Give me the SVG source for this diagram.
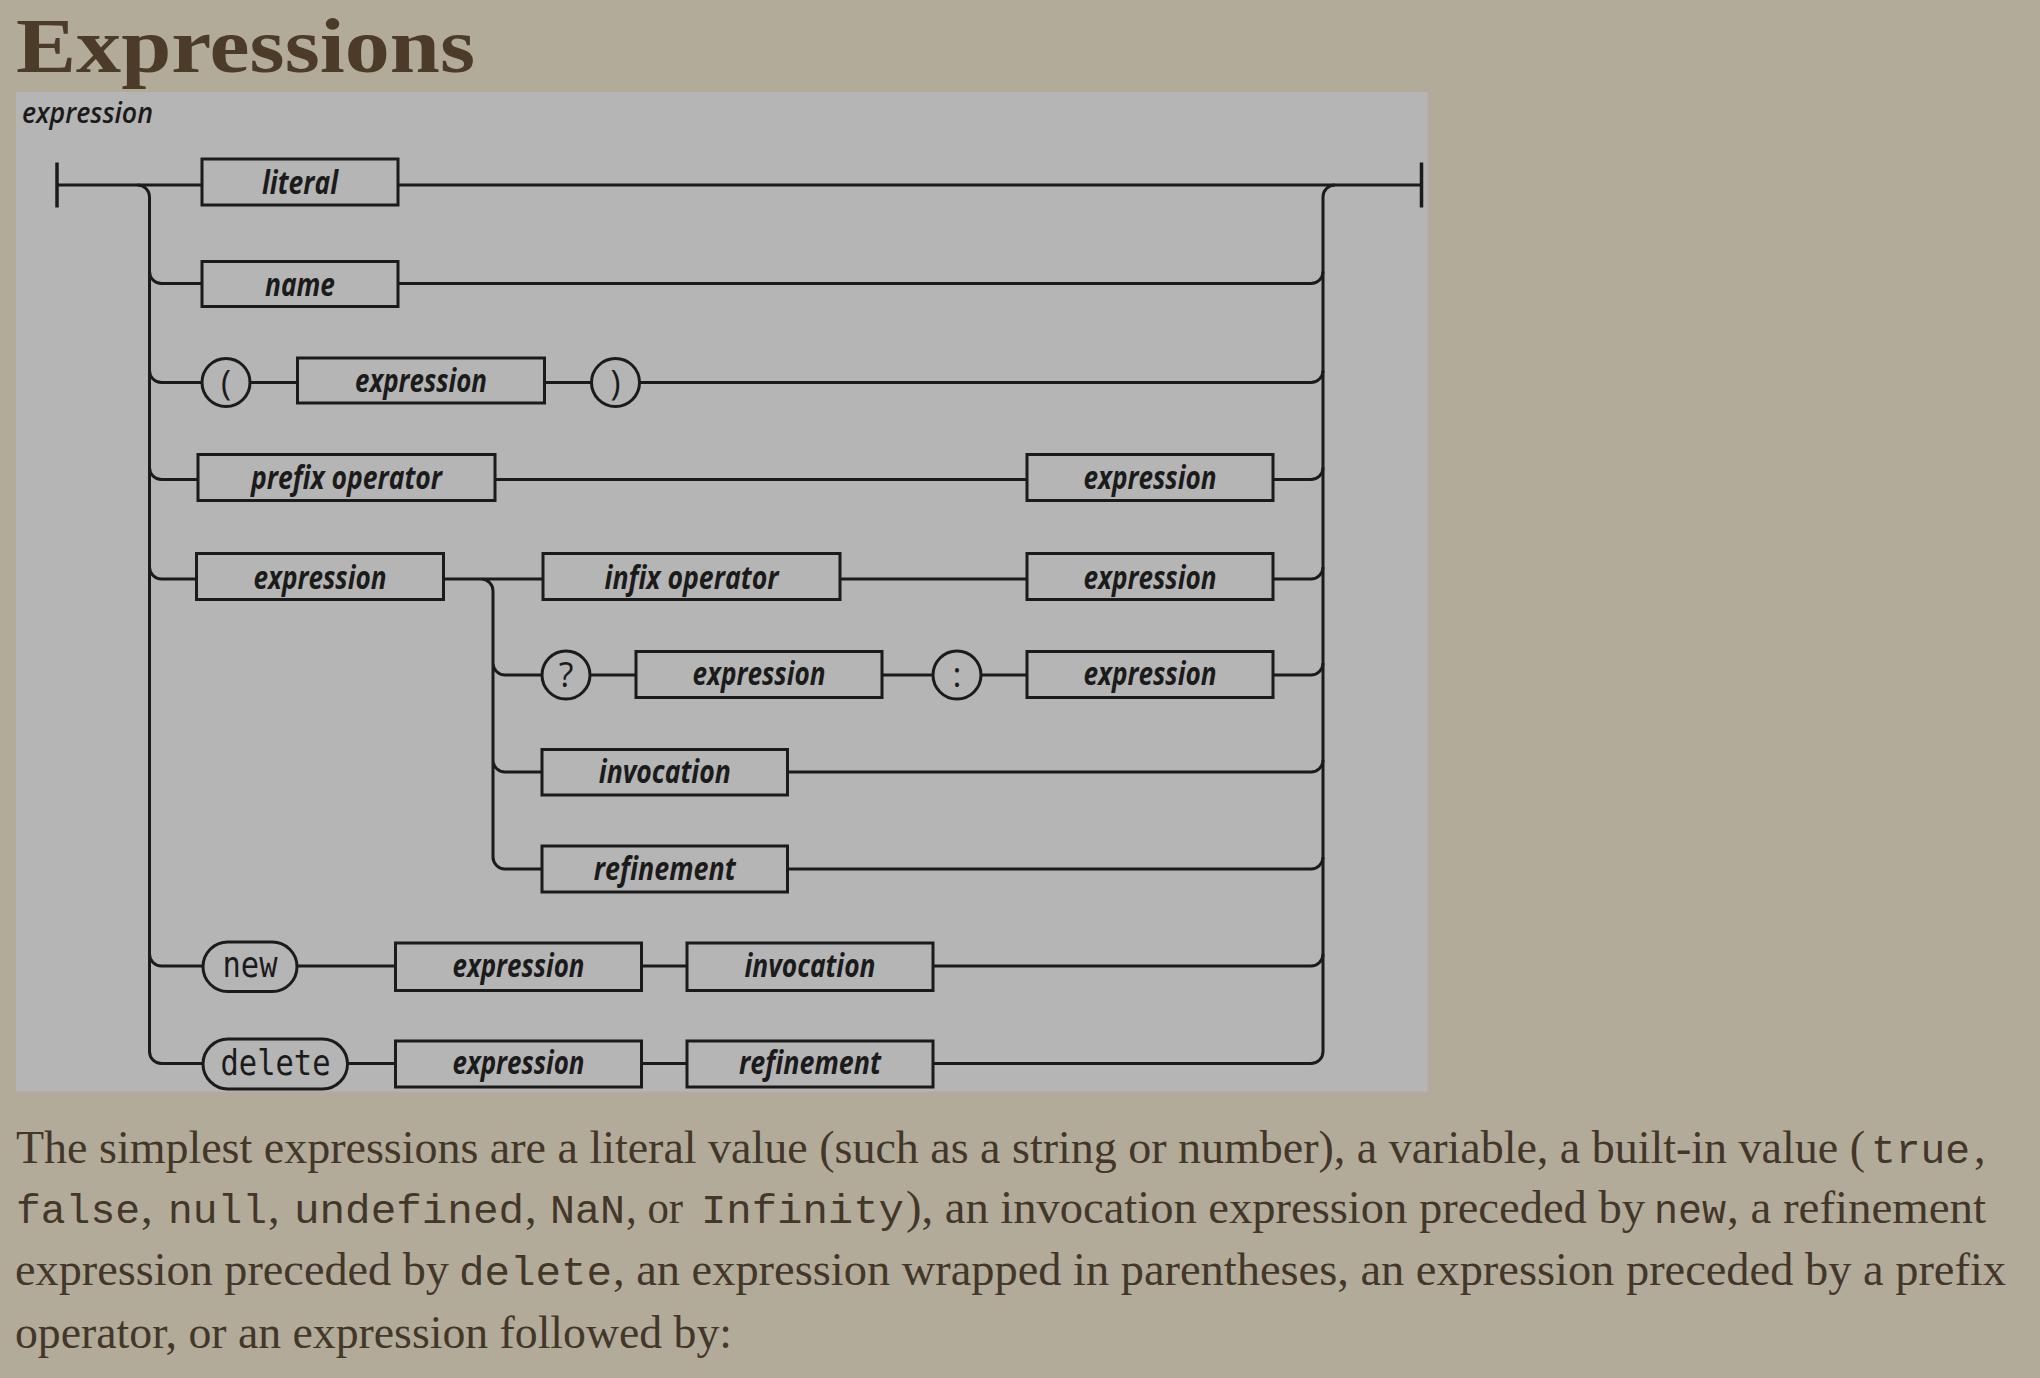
<svg xmlns="http://www.w3.org/2000/svg" width="2040" height="1378" viewBox="0 0 2040 1378">
<style>
.ln{fill:none;stroke:#1b1b1b;stroke-width:3;stroke-linecap:butt}
.bar{fill:none;stroke:#1b1b1b;stroke-width:3.5}
.box{fill:none;stroke:#1b1b1b;stroke-width:3}
.lbl{font-family:"Open Sans","DejaVu Sans",sans-serif;font-style:italic;font-weight:700;font-size:32px;fill:#1b1b1b;text-anchor:middle}
.sym{font-family:"Open Sans","DejaVu Sans",sans-serif;font-size:34px;fill:#1b1b1b;text-anchor:middle}
.kw{font-family:"DejaVu Sans Mono","Liberation Mono",monospace;font-size:36px;fill:#1b1b1b;text-anchor:middle}
.p{font-family:"Liberation Serif","Times New Roman",serif;font-size:46px;fill:#43372a}
.m{font-family:"Liberation Mono","Courier New",monospace;font-size:41px;fill:#43372a}
</style>
<rect x="0" y="0" width="2040" height="1378" fill="#b3ab9a"/>
<text x="16" y="71.5" font-family="Liberation Serif, Times New Roman, serif" font-weight="bold" font-size="78" fill="#4b3b28" textLength="459" lengthAdjust="spacingAndGlyphs">Expressions</text>
<rect x="16" y="92" width="1411.5" height="999.5" fill="#b5b5b5"/>
<text x="22" y="122.7" class="lbl" style="text-anchor:start;font-size:28px;font-weight:600" textLength="131" lengthAdjust="spacingAndGlyphs">expression</text>

<g id="connectors">
<path class="bar" d="M57 162.5V207.5M1421.5 162.5V207.5"/>
<path class="ln" d="M57 185H202M398 185H1421.5"/>
<path class="ln" d="M137.5 185A12 12 0 0 1 149.5 197V1051.5A12 12 0 0 0 161.5 1063.5H203"/>
<path class="ln" d="M149.5 271.5A12 12 0 0 0 161.5 283.5H202M149.5 370.5A12 12 0 0 0 161.5 382.5H202M149.5 467.5A12 12 0 0 0 161.5 479.5H198M149.5 567A12 12 0 0 0 161.5 579H196.5M149.5 954A12 12 0 0 0 161.5 966H203"/>
<path class="ln" d="M1335 185A12 12 0 0 0 1323 197V1051.5A12 12 0 0 1 1311 1063.5H933"/>
<path class="ln" d="M398 283.5H1311A12 12 0 0 0 1323 271.5M639.5 382.5H1311A12 12 0 0 0 1323 370.5M1273 479.5H1311A12 12 0 0 0 1323 467.5M1273 579H1311A12 12 0 0 0 1323 567M1273 675H1311A12 12 0 0 0 1323 663M787.5 772H1311A12 12 0 0 0 1323 760M787.5 869H1311A12 12 0 0 0 1323 857M933 966H1311A12 12 0 0 0 1323 954"/>
<path class="ln" d="M443.5 579H543M481 579A12 12 0 0 1 493 591V857A12 12 0 0 0 505 869H542M493 663A12 12 0 0 0 505 675H542.5M493 760A12 12 0 0 0 505 772H542"/>
<path class="ln" d="M250 382.5H297.5M544.5 382.5H591.5M495 479.5H1027M840 579H1027M590 675H636M882 675H933M981 675H1027M297 966H395.5M641.5 966H687M347.5 1063.5H395.5M641.5 1063.5H687"/>
</g>

<g id="n-literal"><rect class="box" x="202" y="159" width="196" height="46"/><text class="lbl" x="300" y="193.5" textLength="76" lengthAdjust="spacingAndGlyphs">literal</text></g>
<g id="n-name"><rect class="box" x="202" y="261.5" width="196" height="45"/><text class="lbl" x="300" y="295.5" textLength="70" lengthAdjust="spacingAndGlyphs">name</text></g>
<g id="n-lparen"><circle class="box" cx="226" cy="382.5" r="24"/><text class="sym" x="226" y="394.5">(</text></g>
<g id="n-expr3"><rect class="box" x="297.5" y="358" width="247" height="45"/><text class="lbl" x="421" y="392" textLength="132" lengthAdjust="spacingAndGlyphs">expression</text></g>
<g id="n-rparen"><circle class="box" cx="615.5" cy="382.5" r="24"/><text class="sym" x="615.5" y="394.5">)</text></g>
<g id="n-prefix"><rect class="box" x="198" y="454.5" width="297" height="46"/><text class="lbl" x="346.5" y="489" textLength="191" lengthAdjust="spacingAndGlyphs">prefix operator</text></g>
<g id="n-expr4"><rect class="box" x="1027" y="454.5" width="246" height="46"/><text class="lbl" x="1150" y="489" textLength="133" lengthAdjust="spacingAndGlyphs">expression</text></g>
<g id="n-expr5"><rect class="box" x="196.5" y="553.5" width="247" height="46"/><text class="lbl" x="320" y="588.5" textLength="133" lengthAdjust="spacingAndGlyphs">expression</text></g>
<g id="n-infix"><rect class="box" x="543" y="553.5" width="297" height="46"/><text class="lbl" x="691.5" y="588.5" textLength="174" lengthAdjust="spacingAndGlyphs">infix operator</text></g>
<g id="n-expr5r"><rect class="box" x="1027" y="553.5" width="246" height="46"/><text class="lbl" x="1150" y="588.5" textLength="133" lengthAdjust="spacingAndGlyphs">expression</text></g>
<g id="n-q"><circle class="box" cx="566" cy="675" r="24"/><text class="sym" x="566" y="687">?</text></g>
<g id="n-expr6"><rect class="box" x="636" y="651.5" width="246" height="46"/><text class="lbl" x="759" y="685" textLength="133" lengthAdjust="spacingAndGlyphs">expression</text></g>
<g id="n-colon"><circle class="box" cx="957" cy="675" r="24"/><text class="sym" x="957" y="686.5">:</text></g>
<g id="n-expr6r"><rect class="box" x="1027" y="651.5" width="246" height="46"/><text class="lbl" x="1150" y="685" textLength="133" lengthAdjust="spacingAndGlyphs">expression</text></g>
<g id="n-invoc7"><rect class="box" x="542" y="749.5" width="245.5" height="45.5"/><text class="lbl" x="664.75" y="782.5" textLength="132" lengthAdjust="spacingAndGlyphs">invocation</text></g>
<g id="n-refine8"><rect class="box" x="542" y="846" width="245.5" height="46"/><text class="lbl" x="664.75" y="879.5" textLength="142" lengthAdjust="spacingAndGlyphs">refinement</text></g>
<g id="n-new"><rect class="box" x="203" y="942" width="94" height="49.5" rx="24.75"/><text class="kw" x="250" y="977.3" textLength="55" lengthAdjust="spacingAndGlyphs">new</text></g>
<g id="n-expr9"><rect class="box" x="395.5" y="943" width="246" height="47.5"/><text class="lbl" x="518.5" y="977" textLength="132" lengthAdjust="spacingAndGlyphs">expression</text></g>
<g id="n-invoc9"><rect class="box" x="687" y="943" width="246" height="47.5"/><text class="lbl" x="810" y="977" textLength="131" lengthAdjust="spacingAndGlyphs">invocation</text></g>
<g id="n-delete"><rect class="box" x="203" y="1039" width="144.5" height="50" rx="25"/><text class="kw" x="275.5" y="1075" textLength="110" lengthAdjust="spacingAndGlyphs">delete</text></g>
<g id="n-expr10"><rect class="box" x="395.5" y="1041" width="246" height="46"/><text class="lbl" x="518.5" y="1074" textLength="132" lengthAdjust="spacingAndGlyphs">expression</text></g>
<g id="n-refine10"><rect class="box" x="687" y="1041" width="246" height="46"/><text class="lbl" x="810" y="1074" textLength="142" lengthAdjust="spacingAndGlyphs">refinement</text></g>

<g id="paragraph">
<text class="p" x="16" y="1163.3" textLength="1849" lengthAdjust="spacingAndGlyphs">The simplest expressions are a literal value (such as a string or number), a variable, a built-in value (</text>
<text class="m" x="1871" y="1163.3" textLength="99" lengthAdjust="spacingAndGlyphs">true</text>
<text class="p" x="1974" y="1163.3">,</text>
<text class="m" x="16" y="1223.3" textLength="124" lengthAdjust="spacingAndGlyphs">false</text>
<text class="p" x="141" y="1223.3">,</text>
<text class="m" x="168" y="1223.3" textLength="99" lengthAdjust="spacingAndGlyphs">null</text>
<text class="p" x="268" y="1223.3">,</text>
<text class="m" x="294" y="1223.3" textLength="230" lengthAdjust="spacingAndGlyphs">undefined</text>
<text class="p" x="525" y="1223.3">,</text>
<text class="m" x="550" y="1223.3" textLength="75" lengthAdjust="spacingAndGlyphs">NaN</text>
<text class="p" x="626" y="1223.3" textLength="57" lengthAdjust="spacingAndGlyphs">, or</text>
<text class="m" x="701" y="1223.3" textLength="203" lengthAdjust="spacingAndGlyphs">Infinity</text>
<text class="p" x="906" y="1223.3" textLength="739" lengthAdjust="spacingAndGlyphs">), an invocation expression preceded by</text>
<text class="m" x="1654" y="1223.3" textLength="72" lengthAdjust="spacingAndGlyphs">new</text>
<text class="p" x="1727" y="1223.3" textLength="259" lengthAdjust="spacingAndGlyphs">, a refinement</text>
<text class="p" x="15" y="1285" textLength="434" lengthAdjust="spacingAndGlyphs">expression preceded by</text>
<text class="m" x="459" y="1285" textLength="153" lengthAdjust="spacingAndGlyphs">delete</text>
<text class="p" x="613" y="1285" textLength="1393" lengthAdjust="spacingAndGlyphs">, an expression wrapped in parentheses, an expression preceded by a prefix</text>
<text class="p" x="15" y="1348" textLength="717" lengthAdjust="spacingAndGlyphs">operator, or an expression followed by:</text>
</g>
</svg>
